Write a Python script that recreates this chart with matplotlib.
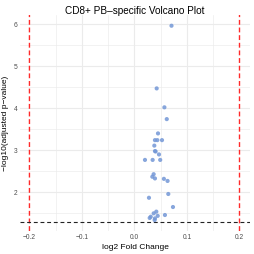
import matplotlib
matplotlib.use("Agg")
import matplotlib.pyplot as plt
import numpy as np

plt.rcParams['font.family'] = ['Liberation Sans', 'DejaVu Sans']

# log2 fold change and -log10(adjusted p) for the significant genes
log2fc = [0.0705, 0.0423, 0.057, 0.0615, 0.0448, 0.039, 0.0435, 0.0524,
          0.0378, 0.039, 0.0403, 0.0467, 0.020, 0.0346, 0.049, 0.0365,
          0.034, 0.039, 0.056, 0.063, 0.0644, 0.0276, 0.0733, 0.0416,
          0.0366, 0.058, 0.0442, 0.031, 0.029, 0.039, 0.0384]
neglog_p = [5.96, 4.47, 4.02, 3.74, 3.40, 3.24, 3.24, 3.24,
            3.11, 2.98, 2.97, 2.90, 2.77, 2.77, 2.77, 2.43,
            2.37, 2.33, 2.32, 2.27, 1.96, 1.87, 1.65, 1.54,
            1.50, 1.46, 1.44, 1.42, 1.39, 1.38, 1.34]

fc_cut = 0.2
p_cut = -np.log10(0.05)

x_ticks = [-0.2, -0.1, 0.0, 0.1, 0.2]
y_ticks = [2, 3, 4, 5, 6]

fig = plt.figure(figsize=(2.54, 2.54), dpi=100)
ax = fig.add_axes([20 / 254, 1 - 231 / 254, 230 / 254, 216 / 254])

# minimal theme grid
for v in np.arange(-0.25, 0.26, 0.05):
    major = abs(round(v / 0.1) * 0.1 - v) < 1e-9
    if abs(abs(v) - fc_cut) < 1e-9:
        continue
    ax.axvline(v, color='#EBEBEB', lw=0.8 if major else 0.45, zorder=0)
for v in np.arange(1.0, 6.6, 0.5):
    major = abs(round(v) - v) < 1e-9
    ax.axhline(v, color='#EBEBEB', lw=0.8 if major else 0.45, zorder=0)

ax.scatter(log2fc, neglog_p, s=9, color='#7397D6', alpha=0.85,
           edgecolors='none', zorder=3)

for xv in (-fc_cut, fc_cut):
    ax.axvline(xv, color='#FF2A2A', ls=(0, (3.5, 2)), lw=1.0, zorder=2,
               snap=False)
ax.axhline(p_cut, color='#222222', ls=(0, (3.5, 2.5)), lw=0.8, zorder=2)

ax.set_xlim(-0.218, 0.22)
ax.set_ylim(1.08, 6.215)
ax.set_xticks(x_ticks)
ax.set_xticklabels(['\u22120.2', '\u22120.1', '0.0', '0.1', '0.2'])
ax.set_yticks(y_ticks)
ax.tick_params(length=0, labelsize=4.8, labelcolor='#4D4D4D', pad=2)
for s in ax.spines.values():
    s.set_visible(False)

ax.set_xlabel('log2 Fold Change', fontsize=6, labelpad=2)
ax.set_ylabel('\u2212log10(adjusted p\u2212value)', fontsize=6, labelpad=3)
fig.text(135 / 254, 1 - 11 / 254, 'CD8+ PB\u2013specific Volcano Plot',
         ha='center', va='center', fontsize=7.2)

fig.savefig('out.png', dpi=100)
